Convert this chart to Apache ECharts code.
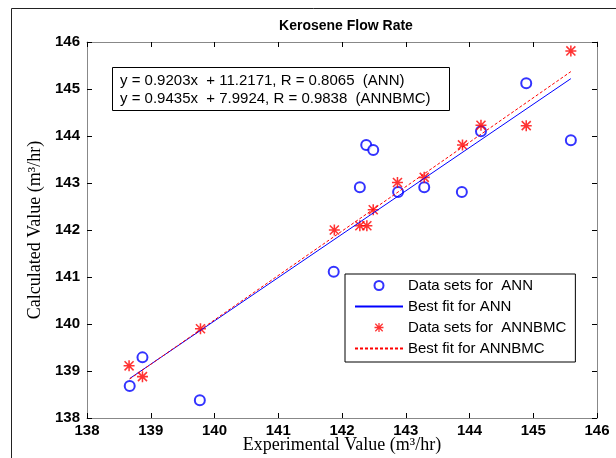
<!DOCTYPE html>
<html><head><meta charset="utf-8">
<script src="https://cdn.jsdelivr.net/npm/echarts@6/dist/echarts.min.js"></script>
<style>html,body{margin:0;padding:0;background:#fff}#c{width:616px;height:458px}</style>
</head><body><div id="c"></div>
<script>
// Data
const annX = [138.67, 138.87, 139.77, 141.87, 142.28, 142.38, 142.49, 142.88, 143.29, 143.88, 144.18, 144.89, 145.59];
const annY = [138.68, 139.29, 138.38, 141.11, 142.91, 143.81, 143.70, 142.81, 142.91, 142.81, 144.10, 145.12, 143.91];
const bmcX = [138.66, 138.87, 139.78, 141.88, 142.28, 142.39, 142.49, 142.87, 143.29, 143.89, 144.18, 144.89, 145.59];
const bmcY = [139.11, 138.88, 139.90, 142.00, 142.09, 142.09, 142.43, 143.01, 143.12, 143.81, 144.23, 144.22, 145.81];
const annFitX = [138.67, 145.59];
const annFitY = [138.84, 145.22];
const bmcFitX = [138.67, 145.59];
const bmcFitY = [138.83, 145.37];
const axisMin = 138, axisMax = 146, axisStep = 1;
const titleText = 'Kerosene Flow Rate';
const xName = 'Experimental Value (m³/hr)';
const yName = 'Calculated Value (m³/hr)';
const eqLines = ['y = 0.9203x  + 11.2171, R = 0.8065  (ANN)', 'y = 0.9435x  + 7.9924, R = 0.9838  (ANNBMC)'];
const seriesNames = ['Data sets for  ANN', 'Best fit for ANN', 'Data sets for  ANNBMC', 'Best fit for ANNBMC'];

const pair = (xs, ys) => xs.map((x, i) => [x, ys[i]]);
const star = 'path://M43 0L57 0L57 100L43 100Z M0 43L100 43L100 57L0 57Z M14 4L96 86L86 96L4 14Z M86 4L96 14L14 96L4 86Z';
const sans = 'Liberation Sans, Arial, sans-serif';
const serif = 'Liberation Serif, Times New Roman, serif';
const tickFont = {fontFamily: sans, fontWeight: 'bold', fontSize: 15, color: '#000'};
const nameFont = {fontFamily: serif, fontSize: 18, color: '#000'};
const axLine = {show: true, lineStyle: {color: '#888', width: 1}};
const axTick = {show: true, inside: true, length: 5, lineStyle: {color: '#000'}};
const noSym = {color: 'rgba(0,0,0,0)', borderWidth: 0, opacity: 0};

const chart = echarts.init(document.getElementById('c'), null, {renderer: 'canvas'});
chart.setOption({
  animation: false,
  backgroundColor: '#fff',
  title: {text: titleText, left: 341, textAlign: 'center', top: 14,
    textStyle: {fontFamily: sans, fontWeight: 'bold', fontSize: 14, color: '#000'}},
  grid: {left: 87, right: 19, top: 42, bottom: 40, containLabel: false, outerBoundsMode: 'none'},
  xAxis: [
    {type: 'value', min: axisMin, max: axisMax, interval: axisStep, position: 'bottom',
     name: xName, nameLocation: 'middle', nameGap: 18, nameMoveOverlap: false, nameTextStyle: nameFont,
     axisLine: axLine, axisTick: axTick, splitLine: {show: false},
     axisLabel: Object.assign({margin: 5}, tickFont)},
    {type: 'value', min: axisMin, max: axisMax, interval: axisStep, position: 'top',
     axisLine: axLine, axisTick: axTick, splitLine: {show: false}, axisLabel: {show: false}}
  ],
  yAxis: [
    {type: 'value', min: axisMin, max: axisMax, interval: axisStep, position: 'left',
     name: yName, nameLocation: 'middle', nameGap: 43, nameMoveOverlap: false, nameRotate: 90, nameTextStyle: nameFont,
     axisLine: axLine, axisTick: axTick, splitLine: {show: false},
     axisLabel: Object.assign({margin: 7}, tickFont)},
    {type: 'value', min: axisMin, max: axisMax, interval: axisStep, position: 'right',
     axisLine: axLine, axisTick: axTick, splitLine: {show: false}, axisLabel: {show: false}}
  ],
  legend: {
    orient: 'vertical', left: 345, top: 274,
    itemWidth: 48, itemHeight: 9, itemGap: 6,
    padding: [4, 9, 6, 9],
    borderColor: '#000', borderWidth: 1, backgroundColor: '#fff',
    textStyle: {fontFamily: sans, fontSize: 15, color: '#000'},
    data: [
      {name: seriesNames[0]},
      {name: seriesNames[1], itemStyle: noSym},
      {name: seriesNames[2]},
      {name: seriesNames[3], itemStyle: noSym}
    ]
  },
  graphic: [
    {type: 'line', shape: {x1: 11.5, y1: 8.5, x2: 616, y2: 8.5}, style: {stroke: '#222', lineWidth: 1}},
    {type: 'line', shape: {x1: 11.5, y1: 8.5, x2: 11.5, y2: 458}, style: {stroke: '#222', lineWidth: 1}},
    {type: 'rect', shape: {x: 112.5, y: 67.5, width: 337, height: 43}, style: {fill: '#fff', stroke: '#000', lineWidth: 1}, z: 10},
    {type: 'text', left: 120, top: 72, z: 11,
     style: {text: eqLines.join('\n'), fontFamily: sans, fontSize: 15, lineHeight: 18, fill: '#000'}}
  ],
  series: [
    {name: seriesNames[0], type: 'scatter', data: pair(annX, annY), symbol: 'emptyCircle', symbolSize: 10,
     itemStyle: {color: '#0000ff', borderColor: '#0000ff', borderWidth: 1}},
    {name: seriesNames[1], type: 'line', data: pair(annFitX, annFitY), symbol: 'none',
     lineStyle: {color: '#0000ff', width: 1}, itemStyle: {color: '#0000ff'}},
    {name: seriesNames[2], type: 'scatter', data: pair(bmcX, bmcY), symbol: star, symbolSize: 11,
     itemStyle: {color: '#ff0000'}},
    {name: seriesNames[3], type: 'line', data: pair(bmcFitX, bmcFitY), symbol: 'none',
     lineStyle: {color: '#ff0000', width: 1, type: [3, 2]}, itemStyle: {color: '#ff0000'}}
  ]
});
</script></body></html>
